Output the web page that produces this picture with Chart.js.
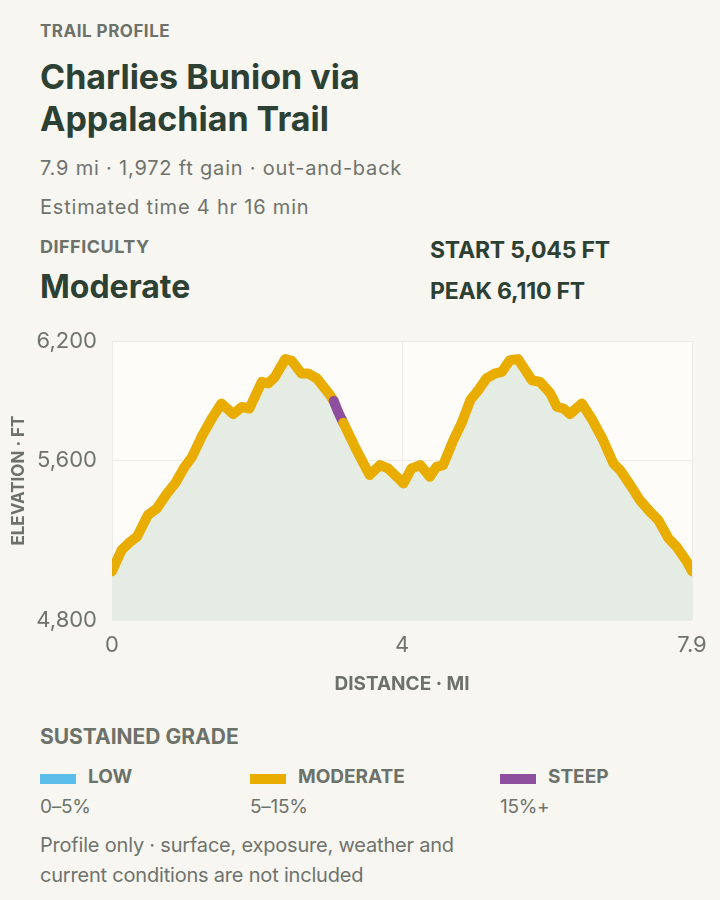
<!DOCTYPE html>
<html>
<head>
<meta charset="utf-8">
<script src="https://cdn.jsdelivr.net/npm/chart.js@4.4.1/dist/chart.umd.min.js"></script>
<style>
  html, body { margin: 0; padding: 0; }
  body {
    width: 720px; height: 900px; background: #f7f6f1; position: relative;
    font-family: Inter, "Noto Sans", sans-serif; overflow: hidden;
  }
  .t { position: absolute; left: 40px; white-space: nowrap; }
  .label { color: #6c7169; font-weight: 700; }
  .dark { color: #2d4034; font-weight: 700; }
  .muted { color: #6f736d; font-size: 20px; line-height: 24px; letter-spacing: 0.8px; }
  #wrap { position: absolute; left: 0; top: 313px; width: 720px; height: 392px; }
  .sw { position: absolute; width: 36px; height: 10px; top: 774px; }
  .lg { position: absolute; top: 766px; color: #6c7169; font-weight: 700; font-size: 19px; line-height: 22px; }
  .rg { position: absolute; top: 795px; color: #6f736d; font-size: 19px; line-height: 24px; letter-spacing: -0.3px; }
</style>
</head>
<body>
<div class="t label" style="top:21px;font-size:17px;line-height:20px;letter-spacing:0.5px">TRAIL PROFILE</div>
<div class="t dark" style="top:56px;font-size:34px;line-height:42px">Charlies Bunion via<br>Appalachian Trail</div>
<div class="t muted" style="top:156px">7.9 mi · 1,972 ft gain · out-and-back</div>
<div class="t muted" style="top:195px">Estimated time 4 hr 16 min</div>
<div class="t label" style="top:236px;font-size:18px;line-height:22px;letter-spacing:0.5px">DIFFICULTY</div>
<div class="t dark" style="left:430px;top:236px;font-size:23px;line-height:28px;letter-spacing:-0.2px">START 5,045 FT</div>
<div class="t dark" style="top:268px;font-size:32px;line-height:38px">Moderate</div>
<div class="t dark" style="left:430px;top:277px;font-size:23px;line-height:28px;letter-spacing:-0.2px">PEAK 6,110 FT</div>

<div id="wrap"><canvas id="profile-chart" width="720" height="392"></canvas></div>

<div class="t label" style="top:724px;font-size:21px;line-height:26px">SUSTAINED GRADE</div>
<div class="sw" style="left:40px;background:#5bbde9"></div>
<div class="lg" style="left:88px">LOW</div>
<div class="rg" style="left:40px">0–5%</div>
<div class="sw" style="left:250px;background:#e8ad00"></div>
<div class="lg" style="left:298px">MODERATE</div>
<div class="rg" style="left:250px">5–15%</div>
<div class="sw" style="left:500px;background:#8f4f9f"></div>
<div class="lg" style="left:548px">STEEP</div>
<div class="rg" style="left:500px">15%+</div>
<div class="t" style="top:830px;color:#6f736d;font-size:20px;line-height:30px;letter-spacing:-0.2px">Profile only · surface, exposure, weather and<br>current conditions are not included</div>

<script>
// distance along the trail (mi) and elevation (ft)
var distance = [0, 0.13, 0.25, 0.34, 0.49, 0.61, 0.75, 0.86, 0.99, 1.09, 1.22, 1.36, 1.49, 1.65, 1.77, 1.87,
  2.04, 2.13, 2.22, 2.36, 2.45, 2.58, 2.67, 2.79, 2.97, 3.02, 3.08, 3.15, 3.20, 3.33, 3.45, 3.51, 3.65, 3.76, 3.88,
  3.97, 4.08, 4.20, 4.33, 4.42, 4.51, 4.65, 4.76, 4.88, 4.99, 5.10, 5.22, 5.31, 5.42, 5.53, 5.63, 5.72, 5.83,
  5.97, 6.06, 6.15, 6.24, 6.40, 6.53, 6.69, 6.83, 6.92, 7.06, 7.19, 7.33, 7.44, 7.58, 7.69, 7.83, 7.9]
var elevation = [5045, 5151, 5193, 5218, 5327, 5360, 5436, 5486, 5569, 5619, 5720, 5812, 5887, 5834, 5870, 5862,
  5996, 5988, 6021, 6110, 6101, 6038, 6038, 6013, 5929, 5900, 5845, 5790, 5753, 5653, 5569, 5528, 5578, 5561, 5519,
  5486, 5561, 5578, 5519, 5569, 5578, 5703, 5787, 5904, 5954, 6013, 6038, 6046, 6105, 6110, 6054, 6004, 5996,
  5938, 5870, 5862, 5834, 5887, 5812, 5703, 5586, 5553, 5477, 5402, 5343, 5302, 5210, 5168, 5093, 5045]

// stretches where sustained grade is 15%+ (mi)
var steepSections = [[3.02, 3.15]]

var xTicks = [0, 3.95, 7.9]
var xTickLabels = ['0', '4', '7.9']
var yTicks = [4800, 5600, 6200]
var yTickLabels = ['4,800', '5,600', '6,200']

var MODERATE = '#e8ad00'
var STEEP = '#8f4f9f'

var points = distance.map(function (d, i) { return { x: d, y: elevation[i] } })

function isSteep(a, b) {
    return steepSections.some(function (s) { return a >= s[0] - 1e-6 && b <= s[1] + 1e-6 })
}

// light panel behind the plot
var plotBg = {
    id: 'plotBg',
    beforeDraw: function (chart) {
        var a = chart.chartArea, c = chart.ctx
        c.save()
        c.fillStyle = '#fdfcf9'
        c.fillRect(a.left, a.top, a.right - a.left, a.bottom - a.top)
        c.restore()
    }
}

var tickFont = { family: 'Inter', size: 22 }

new Chart(document.getElementById('profile-chart').getContext('2d'), {
    type: 'line',
    data: {
        datasets: [
            {
                // the line, coloured by grade
                label: 'Elevation',
                data: points,
                borderWidth: 10,
                borderColor: MODERATE,
                borderJoinStyle: 'round',
                borderCapStyle: 'round',
                pointRadius: 0,
                tension: 0,
                fill: false,
                order: 0,
                segment: {
                    borderColor: function (ctx) {
                        return isSteep(ctx.p0.parsed.x, ctx.p1.parsed.x) ? STEEP : MODERATE
                    }
                }
            },
            {
                // area under the profile
                label: 'Area',
                data: points,
                borderWidth: 0,
                pointRadius: 0,
                tension: 0,
                fill: 'start',
                backgroundColor: '#e4ece3',
                order: 1
            }
        ]
    },
    options: {
        responsive: false,
        animation: false,
        layout: { padding: { top: 0, right: 28, bottom: 5, left: 0 } },
        plugins: {
            legend: { display: false },
            tooltip: { enabled: false }
        },
        scales: {
            x: {
                type: 'linear',
                min: 0,
                max: 7.9,
                afterBuildTicks: function (s) { s.ticks = xTicks.map(function (v) { return { value: v } }) },
                afterFit: function (s) { s.height = 80 },
                grid: { color: '#ecebe6', drawTicks: false },
                border: { display: false },
                ticks: {
                    font: tickFont, color: '#6f736d', padding: 12, maxRotation: 0,
                    callback: function (v, i) { return xTickLabels[i] }
                },
                title: { display: true, text: 'DISTANCE · MI', font: { family: 'Inter', size: 19, weight: 'bold' }, color: '#6c7169', padding: { top: 10, bottom: 4 } }
            },
            y: {
                min: 4800,
                max: 6200,
                afterBuildTicks: function (s) { s.ticks = yTicks.map(function (v) { return { value: v } }) },
                afterFit: function (s) { s.width = 112 },
                grid: { color: '#ecebe6', drawTicks: false },
                border: { display: false },
                ticks: {
                    font: tickFont, color: '#6f736d', padding: 15,
                    callback: function (v, i) { return yTickLabels[i] }
                },
                title: { display: true, text: 'ELEVATION · FT', font: { family: 'Inter', size: 17, weight: 'bold' }, color: '#6c7169', padding: { top: 9, bottom: 0 } }
            }
        }
    },
    plugins: [plotBg]
})
</script>
</body>
</html>
